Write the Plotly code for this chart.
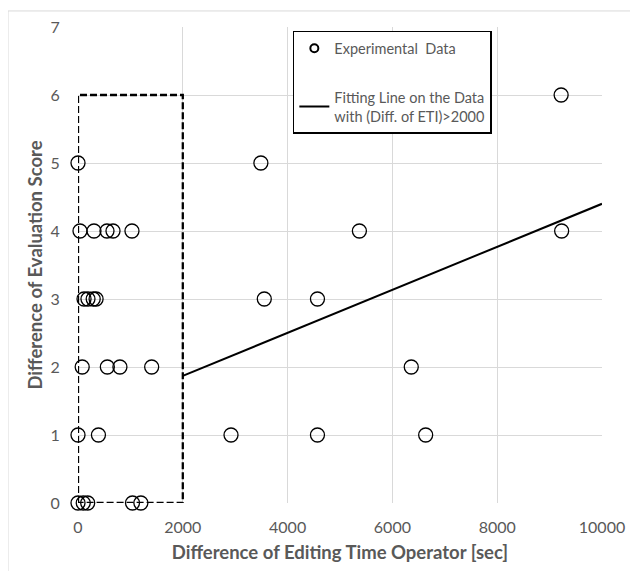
import plotly.graph_objects as go

# Experimental data: (Diff. of editing time [sec], Diff. of evaluation score)
diff_time = [
    0, 3490, 9220,
    38, 305, 553, 668, 1030, 5370, 9230,
    115, 190, 290, 345, 3555, 4570,
    80, 560, 800, 1406, 6360,
    0, 390, 2920, 4570, 6635,
    0, 100, 185, 1040, 1200,
]
diff_score = [
    5, 5, 6,
    4, 4, 4, 4, 4, 4, 4,
    3, 3, 3, 3, 3, 3,
    2, 2, 2, 2, 2,
    1, 1, 1, 1, 1,
    0, 0, 0, 0, 0,
]

# Fitting line on the data with Diff. of ETI > 2000
fit_x = [2000, 10000]
fit_y = [1.87, 4.40]

# Dashed region (Diff. of ETI <= 2000)
box_x = [0, 0, 2000, 2000, 0]
box_y = [0, 6, 6, 0, 0]

x_ticks = [0, 2000, 4000, 6000, 8000, 10000]
x_tick_text = ["0", "2000", "4000", "6000", "8000", "10000"]
y_ticks = [0, 1, 2, 3, 4, 5, 6, 7]

GRAY = "#595959"
FONT = "Lato"
CLEAR = "rgba(0,0,0,0)"

fig = go.Figure()
fig.add_trace(go.Scatter(
    x=box_x, y=box_y, mode="lines", showlegend=False, hoverinfo="skip",
    line=dict(color="black", width=2.3, dash="7px,3px"), cliponaxis=False,
))
fig.add_trace(go.Scatter(
    x=diff_time, y=diff_score, mode="markers", name="Experimental  Data",
    marker=dict(symbol="circle-open", size=14, color="black", line=dict(width=1.3, color="black")),
    legendgroup="a", cliponaxis=False, showlegend=False,
))
# legend entry for the experimental data (smaller symbol as in the original legend)
fig.add_trace(go.Scatter(
    x=[None], y=[None], mode="markers", name="Experimental  Data",
    marker=dict(symbol="circle-open", size=8, color="black", line=dict(width=2, color="black")),
    legendgroup="a",
))
fig.add_trace(go.Scatter(
    x=fit_x, y=fit_y, mode="lines", name="Fitting Line on the Data<br>with (Diff. of ETI)>2000",
    line=dict(color="black", width=2), legendgroup="b",
))

# outer chart border
fig.add_shape(type="rect", xref="paper", yref="paper", x0=-0.1336, x1=1.0668, y0=-0.16, y1=1.0337,
              line=dict(color="#d9d9d9", width=1))

fig.update_layout(
    width=630, height=563,
    margin=dict(l=70, r=36, t=19, b=68, autoexpand=False),
    paper_bgcolor="white", plot_bgcolor="white",
    font=dict(family=FONT, color=GRAY, size=15),
    showlegend=True,
    legend=dict(
        x=0.41, y=0.992, xanchor="left", yanchor="top",
        bordercolor="black", borderwidth=1.5, bgcolor="white",
        font=dict(family=FONT, size=14.5, color=GRAY),
        tracegroupgap=27, traceorder="grouped", itemwidth=30,
    ),
    xaxis=dict(
        range=[0, 10000], tickvals=x_ticks, ticktext=x_tick_text, showgrid=True, gridcolor="#d9d9d9",
        zeroline=False, showline=False, tickfont=dict(size=16, color=GRAY),
        title=dict(text="<b>Difference of Editing Time Operator [sec]</b>", font=dict(size=18.5, color=GRAY), standoff=10),
        ticks="outside", ticklen=10, tickcolor=CLEAR, automargin=False,
    ),
    yaxis=dict(
        range=[0, 7], tickvals=y_ticks, showgrid=True, gridcolor="#d9d9d9",
        zeroline=False, showline=False, tickfont=dict(size=16, color=GRAY),
        title=dict(text="<b>Difference of Evaluation Score</b>", font=dict(size=18.5, color=GRAY), standoff=3),
        ticks="outside", ticklen=14, tickcolor=CLEAR, automargin=False,
    ),
)
fig.write_html("out.html")
